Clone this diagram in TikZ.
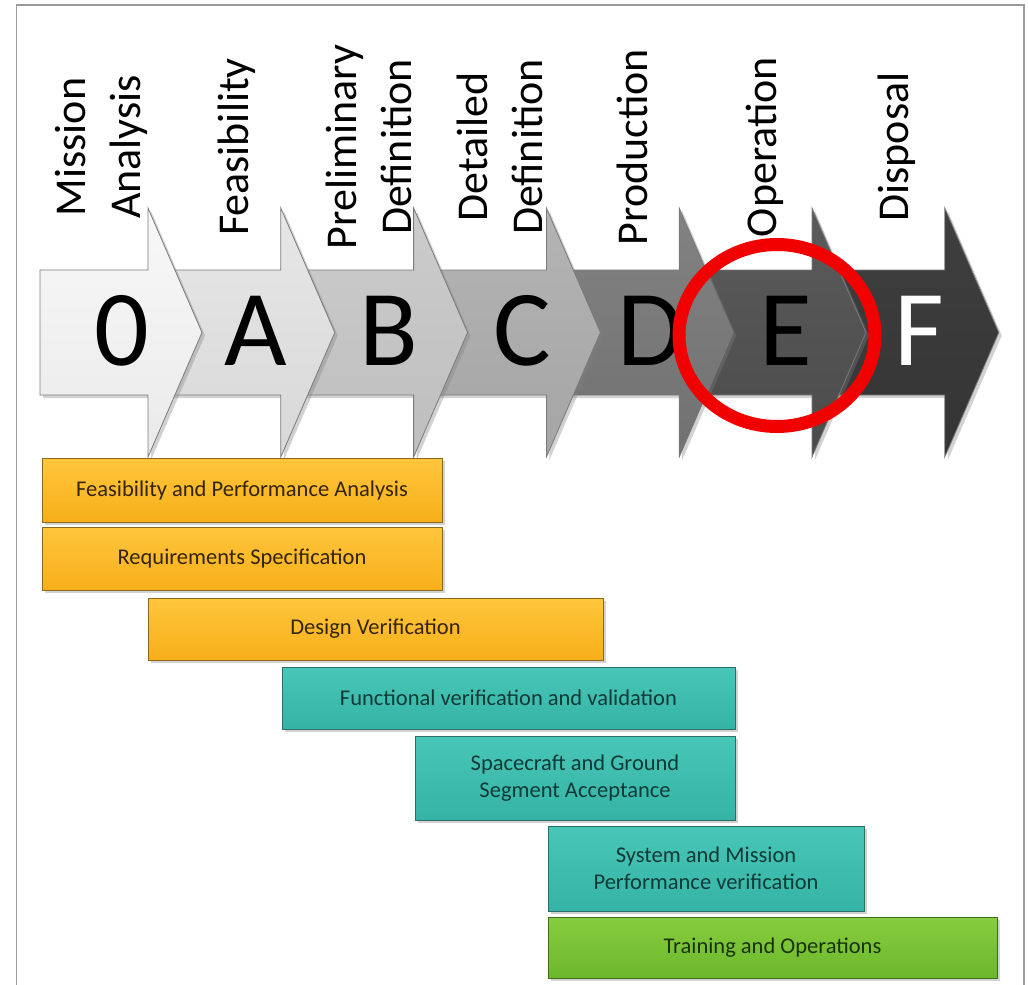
\documentclass[tikz,border=0pt]{standalone}
\usepackage{fontspec}
\setmainfont{Carlito}
\usetikzlibrary{shadows}
\definecolor{frame}{HTML}{9A9A9A}
\definecolor{aline}{HTML}{7A7A7A}
\definecolor{otop}{HTML}{FFC63C}
\definecolor{obot}{HTML}{F7AF1A}
\definecolor{odraw}{HTML}{8A6A1A}
\definecolor{otext}{HTML}{33240A}
\definecolor{ttop}{HTML}{48C7B9}
\definecolor{tbot}{HTML}{35B4A5}
\definecolor{tdraw}{HTML}{2A6E66}
\definecolor{ttext}{HTML}{0F3A36}
\definecolor{gtop}{HTML}{88CD40}
\definecolor{gbot}{HTML}{6CB72A}
\definecolor{gdraw}{HTML}{3F6E1A}
\definecolor{gtext}{HTML}{1A3306}
\definecolor{ringred}{HTML}{F20000}
\tikzset{
  lbl/.style={rotate=90, align=center, inner sep=0pt, font=\fontsize{44}{55}\selectfont},
  bigletter/.style={anchor=base, inner sep=0pt, font=\fontsize{108}{108}\selectfont},
  abox/.style={draw=#1, line width=1pt, inner sep=0pt, align=center,
    font=\fontsize{22.5}{27.5}\selectfont,
    drop shadow={shadow xshift=3pt, shadow yshift=-3pt, opacity=.35, fill=gray}},
  obox/.style={abox=odraw, top color=otop, bottom color=obot, text=otext},
  tbox/.style={abox=tdraw, top color=ttop, bottom color=tbot, text=ttext},
  gbox/.style={abox=gdraw, top color=gtop, bottom color=gbot, text=gtext},
}
\begin{document}
\begin{tikzpicture}[x=1pt, y=-1pt]
\useasboundingbox (0,0) rectangle (1028,985);
\fill[white] (0,0) rectangle (1028,985);
% frame
\draw[frame, line width=1.5pt] (16.5,985) -- (16.5,5) -- (1024,5) -- (1024,985);

% phase arrows (drawn last-to-first so earlier heads lie on top)
\foreach \i/\ct/\cb in {6/3F3F3F/343434, 5/5B5B5B/4B4B4B, 4/828282/717171,
                        3/B4B4B4/A5A5A5, 2/CCCCCC/BEBEBE, 1/E7E7E7/D8D8D8, 0/F8F8F8/EAEAEA} {
  \definecolor{ct}{HTML}{\ct}
  \definecolor{cb}{HTML}{\cb}
  \pgfmathsetmacro\B{148+132.8*\i}
  \pgfmathsetmacro\L{ifthenelse(\i==0,40,\B-132.8)}
  \pgfmathsetmacro\T{\B+54}
  \fill[gray, opacity=.35, shift={(3,3)}]
    (\L,270) -- (\B,270) -- (\B,208) -- (\T,332.5) -- (\B,457) -- (\B,395) -- (\L,395) -- cycle;
  \draw[aline, line width=.8pt, top color=ct, bottom color=cb]
    (\L,270) -- (\B,270) -- (\B,208) -- (\T,332.5) -- (\B,457) -- (\B,395) -- (\L,395) -- cycle;
}

% big phase letters
\node[bigletter] (p0) at (122,365) {0};
\node[bigletter] (pA) at (256,365) {A};
\node[bigletter] (pB) at (389,365) {B};
\node[bigletter] (pC) at (522,365) {C};
\node[bigletter] (pD) at (651,365) {D};
\node[bigletter] (pE) at (786,365) {E};
\node[bigletter, text=white] (pF) at (919,365) {F};

% phase names
\node[lbl] (n0) at (101,147) {Mission\\Analysis};
\node[lbl] (nA) at (237,147) {Feasibility};
\node[lbl] (nB) at (369,147) {Preliminary\\Definition};
\node[lbl] (nC) at (500,147) {Detailed\\Definition};
\node[lbl] (nD) at (632,147) {Production};
\node[lbl] (nE) at (765,147) {Operation};
\node[lbl] (nF) at (897,147) {Disposal};

% highlight ring
\draw[ringred, line width=13pt] (777,335.5) ellipse [x radius=98pt, y radius=91pt];

% activity bars
\node[obox, minimum width=400pt, minimum height=64pt] (b1) at (242,490) {Feasibility and Performance Analysis};
\node[obox, minimum width=400pt, minimum height=63pt] (b2) at (242,558.5) {Requirements Specification};
\node[obox, minimum width=455pt, minimum height=62pt] (b3) at (375.5,629) {Design Verification};
\node[tbox, minimum width=453pt, minimum height=62pt] (b4) at (508.5,698) {Functional verification and validation};
\node[tbox, minimum width=320pt, minimum height=84pt] (b5) at (575,778) {Spacecraft and Ground\\Segment Acceptance};
\node[tbox, minimum width=316pt, minimum height=85pt] (b6) at (706,868.5) {System and Mission\\Performance verification};
\node[gbox, minimum width=449pt, minimum height=61pt] (b7) at (772.5,947.5) {Training and Operations};
\end{tikzpicture}
\end{document}
